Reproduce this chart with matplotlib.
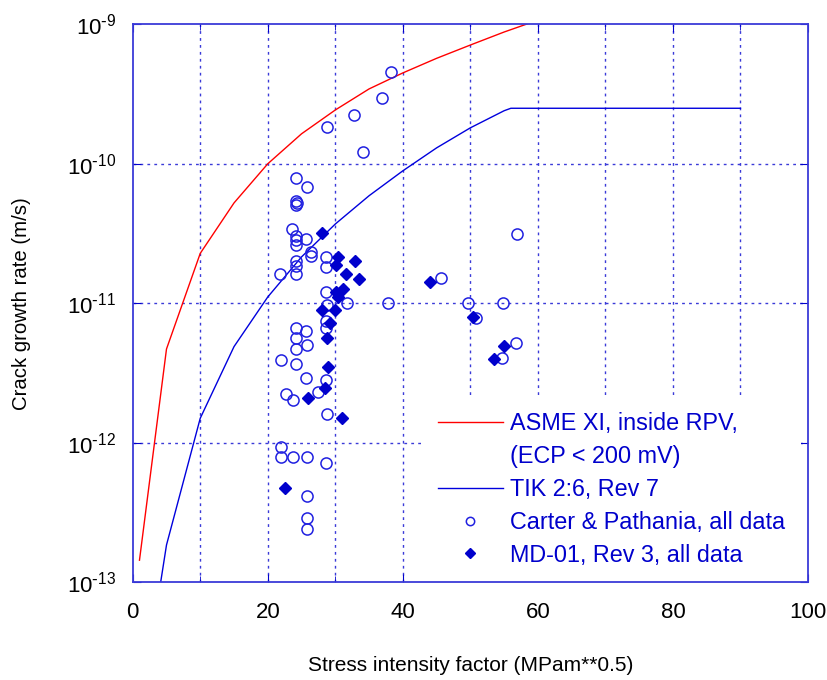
import numpy as np
import matplotlib
matplotlib.use("Agg")
from matplotlib import pyplot as plt
from matplotlib.lines import Line2D

# ASME XI curve (inside RPV, ECP < 200 mV)
asme_k = [1, 5, 10, 15, 20, 25, 30, 35, 40, 45, 50, 55, 60]
asme_rate = [1.44e-13, 4.7e-12, 2.28e-11, 5.24e-11, 1.0e-10, 1.64e-10, 2.43e-10,
             3.44e-10, 4.48e-10, 5.7e-10, 7.1e-10, 8.8e-10, 1.07e-9]

# TIK 2:6, Rev 7
tik_k = [1, 5, 10, 15, 20, 25, 30, 35, 40, 45, 50, 55, 56, 90]
tik_rate = [1.07e-14, 1.85e-13, 1.5e-12, 4.89e-12, 1.11e-11, 2.15e-11, 3.7e-11,
            5.9e-11, 8.9e-11, 1.3e-10, 1.81e-10, 2.4e-10, 2.5e-10, 2.5e-10]

# Carter & Pathania, all data
cp_k = [24.13, 25.84, 24.13, 24.27, 24.13, 23.53, 24.13, 24.13, 25.65, 24.13,
        26.35, 26.35, 28.61, 24.13, 24.13, 21.8, 24.13, 28.61, 28.61, 28.8,
        31.76, 37.74, 28.61, 28.61, 24.13, 25.65, 24.13, 25.84, 24.13, 21.9,
        24.13, 25.65, 28.61, 22.65, 23.77, 27.38, 28.72, 21.9, 21.9, 23.77,
        25.84, 28.57, 25.84, 25.84, 25.84, 56.84, 45.63, 49.67, 54.77, 50.81,
        56.74, 54.66, 38.19, 36.95, 32.76, 28.76, 34.04]
cp_rate = [7.87e-11, 6.86e-11, 5.43e-11, 5.26e-11, 5.07e-11, 3.41e-11, 3.04e-11,
           2.84e-11, 2.89e-11, 2.62e-11, 2.34e-11, 2.19e-11, 2.14e-11, 2.02e-11,
           1.85e-11, 1.61e-11, 1.61e-11, 1.83e-11, 1.2e-11, 9.72e-12, 1.0e-11,
           1.0e-11, 7.5e-12, 6.62e-12, 6.62e-12, 6.37e-12, 5.67e-12, 5.02e-12,
           4.7e-12, 3.92e-12, 3.66e-12, 2.92e-12, 2.82e-12, 2.23e-12, 2.03e-12,
           2.3e-12, 1.61e-12, 9.37e-13, 7.87e-13, 7.87e-13, 7.87e-13, 7.13e-13,
           4.16e-13, 2.91e-13, 2.4e-13, 3.13e-11, 1.51e-11, 1.0e-11, 1.0e-11,
           7.88e-12, 5.16e-12, 4.03e-12, 4.55e-10, 2.95e-10, 2.23e-10, 1.82e-10,
           1.21e-10]

# MD-01, Rev 3, all data
md_k = [27.98, 30.43, 32.95, 30.05, 31.53, 33.5, 31.08, 30.05, 30.43, 28.02,
        29.99, 29.2, 28.8, 28.91, 28.51, 25.99, 31.02, 22.54, 44.0, 50.41,
        55.0, 53.48]
md_rate = [3.21e-11, 2.14e-11, 2.01e-11, 1.87e-11, 1.61e-11, 1.5e-11, 1.27e-11,
           1.21e-11, 1.11e-11, 8.95e-12, 8.95e-12, 7.26e-12, 5.66e-12, 3.48e-12,
           2.48e-12, 2.1e-12, 1.5e-12, 4.72e-13, 1.41e-11, 7.94e-12, 4.97e-12,
           4.01e-12]

plt.rcParams['font.family'] = ['Liberation Sans', 'DejaVu Sans']
plt.rcParams['mathtext.default'] = 'regular'

blue = '#0000cc'
grid_blue = '#3a3ad8'

fig = plt.figure(figsize=(8.28, 6.80), dpi=100)
ax = fig.add_axes([0.1603, 0.1437, 0.8155, 0.8206])

red_line, = ax.plot(asme_k, asme_rate, color='#ff0000', lw=1.0)
tik_line, = ax.plot(tik_k, tik_rate, color='#0000dd', lw=1.0)
cp_pts, = ax.plot(cp_k, cp_rate, linestyle='none', marker='o', markersize=8,
                  markerfacecolor='none', markeredgecolor='#2020e0',
                  markeredgewidth=1.1)
md_pts, = ax.plot(md_k, md_rate, linestyle='none', marker='D', markersize=6.5,
                  color=blue)

ax.set_yscale('log')
ax.set_xlim(0, 100)
ax.set_ylim(1e-13, 1e-9)
ax.set_xticks(np.arange(0, 101, 20))
ax.set_xticks(np.arange(10, 100, 20), minor=True)
ax.set_yticks([1e-13, 1e-12, 1e-11, 1e-10, 1e-9])
ax.yaxis.set_minor_locator(matplotlib.ticker.NullLocator())
ax.yaxis.set_major_formatter(matplotlib.ticker.FuncFormatter(
    lambda v, p: r'$10^{\text{-}%d}$' % round(-np.log10(v))))

for x in range(10, 100, 10):
    ax.axvline(x, color=grid_blue, lw=1.0, linestyle=(0, (2, 3)), zorder=0)
for y in [1e-12, 1e-11, 1e-10]:
    ax.axhline(y, color=grid_blue, lw=1.0, linestyle=(0, (2, 3)), zorder=0)

for s in ax.spines.values():
    s.set_color(grid_blue)
    s.set_linewidth(1.3)

ax.tick_params(which='both', direction='in', color=blue, labelsize=16,
               top=True, right=True)
ax.tick_params(axis='x', pad=14)
ax.tick_params(axis='y', pad=12)
ax.tick_params(which='major', length=6)
ax.tick_params(which='minor', length=4)

ax.set_xlabel('Stress intensity factor (MPam**0.5)', fontsize=15, labelpad=24)
ax.set_ylabel('Crack growth rate (m/s)', fontsize=14.7, labelpad=26)

blank = Line2D([], [], color='none')
handles = [red_line, blank, tik_line, cp_pts, md_pts]
labels = ['ASME XI, inside RPV,', '(ECP < 200 mV)', 'TIK 2:6, Rev 7',
          'Carter & Pathania, all data', 'MD-01, Rev 3, all data']
leg = ax.legend(handles, labels, loc='lower right', bbox_to_anchor=(1.007, -0.022),
                fontsize=16.8, labelcolor=blue, frameon=True, framealpha=1.0,
                edgecolor='none', facecolor='white', handlelength=2.75,
                handletextpad=0.3, labelspacing=0.42, borderpad=0.7,
                markerscale=0.75)
leg.set_zorder(2.2)

fig.savefig('out.png', dpi=100)
